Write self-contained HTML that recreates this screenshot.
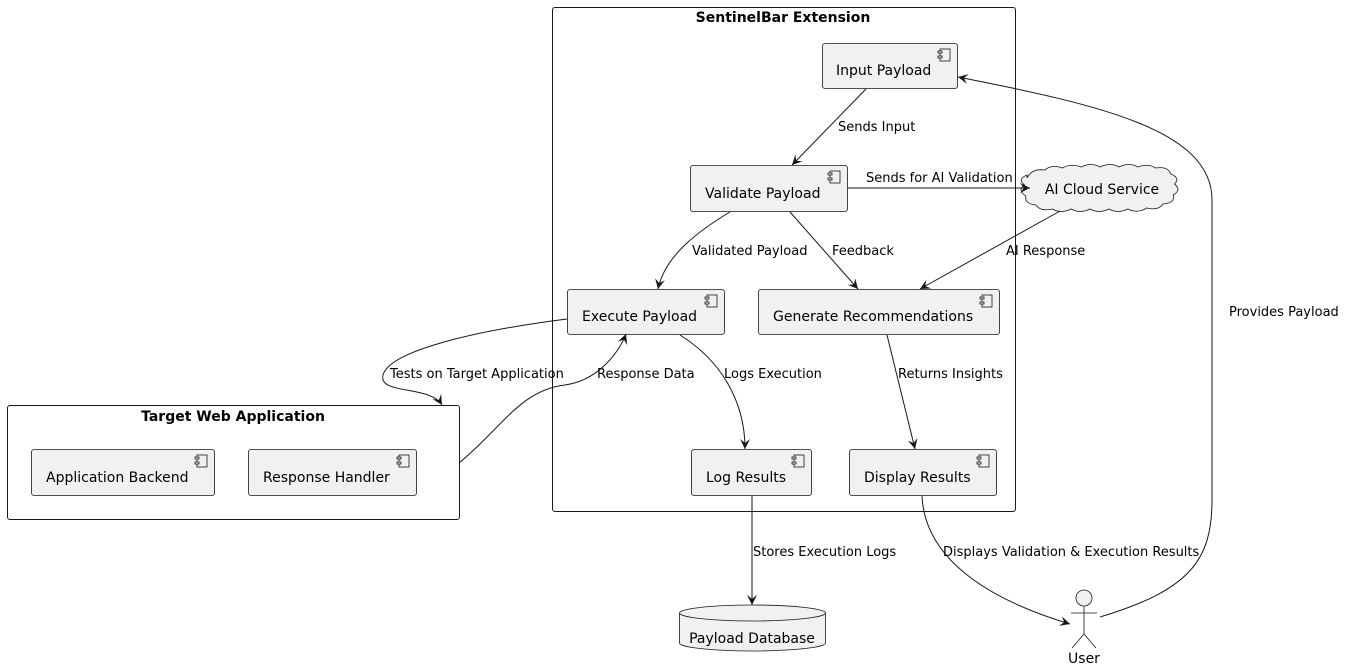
<!DOCTYPE html>
<html><head><meta charset="utf-8"><style>body{margin:0;background:#fff}svg{display:block}text{font-family:"DejaVu Sans","Liberation Sans",sans-serif}</style></head><body>
<svg width="1346" height="670" viewBox="0 0 1346 670" xmlns="http://www.w3.org/2000/svg">
<defs>
<marker id="a" markerWidth="12" markerHeight="10" refX="10" refY="5" orient="auto" markerUnits="userSpaceOnUse"><path d="M0,0 L10,5 L0,10 L4,5 Z" fill="#181818"/></marker>
<g id="ic"><rect x="0" y="0" width="10" height="12" fill="#f1f1f1" stroke="#181818" stroke-width="0.8"/><rect x="-2" y="2" width="4" height="2" fill="#f1f1f1" stroke="#181818" stroke-width="0.8"/><rect x="-2" y="7" width="4" height="2" fill="#f1f1f1" stroke="#181818" stroke-width="0.8"/></g>
</defs>
<rect x="552.5" y="7.5" width="463" height="504" rx="2.5" fill="none" stroke="#181818"/>
<text x="783" y="22" font-size="14" font-weight="bold" text-anchor="middle">SentinelBar Extension</text>
<rect x="7.5" y="405.5" width="452" height="114" rx="2.5" fill="none" stroke="#181818"/>
<text x="233" y="421" font-size="14" font-weight="bold" text-anchor="middle">Target Web Application</text>
<g fill="#f1f1f1" stroke="#181818" stroke-width="0.8">
<rect x="822.5" y="43.5" width="135" height="45" rx="2.5"/>
<rect x="690.5" y="165.5" width="157" height="46" rx="2.5"/>
<rect x="567.5" y="289.5" width="157" height="45" rx="2.5"/>
<rect x="758.5" y="289.5" width="241" height="45" rx="2.5"/>
<rect x="691.5" y="449.5" width="120" height="46" rx="2.5"/>
<rect x="849.5" y="449.5" width="147" height="46" rx="2.5"/>
<rect x="31.5" y="449.5" width="183" height="46" rx="2.5"/>
<rect x="248.5" y="449.5" width="168" height="46" rx="2.5"/>
</g>
<use href="#ic" x="940" y="49"/><use href="#ic" x="830" y="171"/><use href="#ic" x="707" y="295"/><use href="#ic" x="982" y="295"/><use href="#ic" x="794" y="455"/><use href="#ic" x="979" y="455"/><use href="#ic" x="197" y="455"/><use href="#ic" x="399" y="455"/>
<g font-size="14" fill="#000">
<text x="836" y="75">Input Payload</text>
<text x="705" y="198">Validate Payload</text>
<text x="582" y="321">Execute Payload</text>
<text x="773" y="321">Generate Recommendations</text>
<text x="706" y="482">Log Results</text>
<text x="864" y="482">Display Results</text>
<text x="46" y="482">Application Backend</text>
<text x="263" y="482">Response Handler</text>
</g>
<path transform="translate(1022,0) scale(1.26,1) translate(-1026,0)" vector-effect="non-scaling-stroke" d="M1030,178 q4,-10 14,-8 q6,-6 14,-2 q7,-5 15,-1 q8,-5 15,0 q8,-5 15,0 q8,-5 15,0 q8,-4 14,1 q10,-2 12,6 q8,4 3,10 q6,6 -1,11 q2,8 -8,9 q-4,7 -13,4 q-7,6 -15,1 q-8,5 -15,0 q-8,5 -15,0 q-8,5 -15,0 q-8,5 -15,0 q-9,3 -13,-4 q-9,-1 -8,-9 q-7,-6 -1,-11 q-6,-6 2,-10 Z" fill="#f1f1f1" stroke="#181818" stroke-width="0.8"/>
<text x="1102" y="194" font-size="14" text-anchor="middle">AI Cloud Service</text>
<path d="M679.5,613 v30 a73,8 0 0 0 146,0 v-30" fill="#f1f1f1" stroke="#181818" stroke-width="0.8"/>
<ellipse cx="752.5" cy="613" rx="73" ry="8" fill="#f1f1f1" stroke="#181818" stroke-width="0.8"/>
<text x="752" y="643" font-size="14" text-anchor="middle">Payload Database</text>
<g stroke="#181818" stroke-width="0.8" fill="#f1f1f1">
<circle cx="1084" cy="598" r="8"/><line x1="1084" y1="606" x2="1084" y2="634"/><line x1="1071" y1="613" x2="1097" y2="613"/><line x1="1084" y1="634" x2="1072" y2="648"/><line x1="1084" y1="634" x2="1096" y2="648"/>
</g>
<text x="1084" y="663" font-size="14" text-anchor="middle">User</text>
<g fill="none" stroke="#181818" stroke-width="1" marker-end="url(#a)">
<path d="M866,89 L792,165"/>
<path d="M848,188 L1030,188"/>
<path d="M730,212 C700,230 665,255 658,289"/>
<path d="M790,212 L858,289"/>
<path d="M1060,211 L920,289"/>
<path d="M567,319 C480,330 390,350 383,375 C378,395 430,385 442,405"/>
<path d="M459,463 C500,430 520,390 565,385 C600,380 620,350 626,334"/>
<path d="M680,335 C720,360 745,400 745,449"/>
<path d="M887,335 L915,449"/>
<path d="M752,496 L752,605"/>
<path d="M922,496 C925,560 990,600 1070,624"/>
<path d="M1100,617 C1190,590 1212,560 1212,500 L1212,200 C1212,130 1100,105 958,77"/>
</g>
<g font-size="13" fill="#000">
<text x="838" y="131">Sends Input</text>
<text x="866" y="182">Sends for AI Validation</text>
<text x="692" y="255">Validated Payload</text>
<text x="832" y="255">Feedback</text>
<text x="1006" y="255">AI Response</text>
<text x="390" y="378">Tests on Target Application</text>
<text x="597" y="378">Response Data</text>
<text x="724" y="378">Logs Execution</text>
<text x="898" y="378">Returns Insights</text>
<text x="1229" y="316">Provides Payload</text>
<text x="753" y="556">Stores Execution Logs</text>
<text x="943" y="556">Displays Validation &amp; Execution Results</text>
</g>
</svg>
</body></html>
